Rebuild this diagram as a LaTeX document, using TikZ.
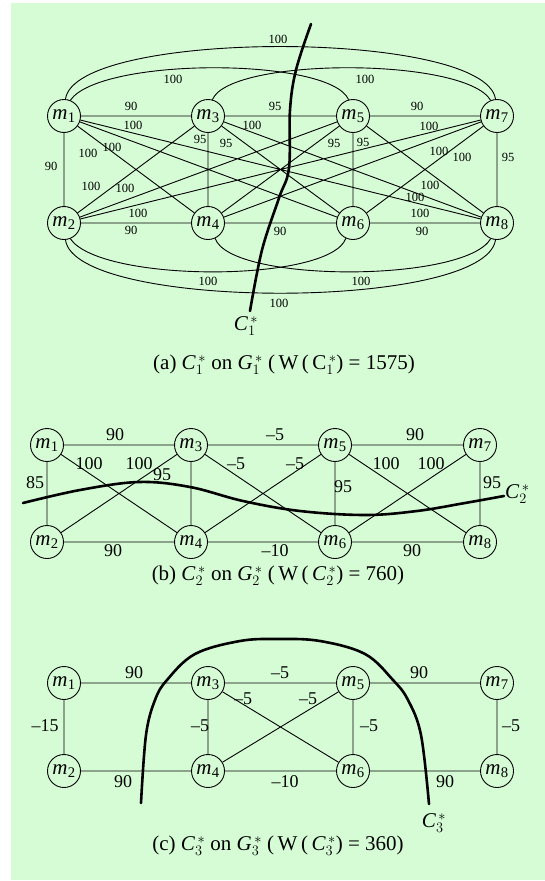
\documentclass[tikz,border=0pt]{standalone}
\usepackage{fontspec}
\setmainfont{Liberation Serif}
\usetikzlibrary{calc}
\definecolor{bgg}{RGB}{214,252,214}
\newcommand\mnode[1]{\textit{m}\kern0.02em\textsubscript{#1}}
\newcommand\cstar[1]{\textit{C}$_{#1}^{\,*}$}
\newcommand\gstar[1]{\textit{G}$_{#1}^{\,*}$}
\begin{document}
\begin{tikzpicture}[x=1pt,y=-1pt,
  vtx/.style={circle,draw,line width=0.9pt,inner sep=0pt,minimum size=33pt,font=\fontsize{21}{21}\selectfont},
  edg/.style={line width=0.9pt},
  cutl/.style={line width=2.6pt,line cap=round},
  la/.style={inner sep=0pt,font=\fontsize{12.5}{13}\selectfont},
  lb/.style={inner sep=0pt,font=\fontsize{18}{18}\selectfont},
  capt/.style={inner sep=0pt,font=\fontsize{21}{21}\selectfont}]
\useasboundingbox (0,0) rectangle (545,881);
\fill[bgg] (11,3) rectangle (545,880);

% ---------------- panel (a)
\begin{scope}
\node[vtx] (a1) at (64,116) {\mnode{1}};
\node[vtx] (a3) at (208,116) {\mnode{3}};
\node[vtx] (a5) at (353,116) {\mnode{5}};
\node[vtx] (a7) at (497,116) {\mnode{7}};
\node[vtx] (a2) at (64,223) {\mnode{2}};
\node[vtx] (a4) at (208,223) {\mnode{4}};
\node[vtx] (a6) at (353,223) {\mnode{6}};
\node[vtx] (a8) at (497,223) {\mnode{8}};
\draw[edg] (a1)--(a3) (a3)--(a5) (a5)--(a7) (a2)--(a4) (a4)--(a6) (a6)--(a8)
  (a1)--(a2) (a3)--(a4) (a5)--(a6) (a7)--(a8)
  (a1)--(a4) (a1)--(a6) (a1)--(a8) (a3)--(a2) (a3)--(a6) (a3)--(a8)
  (a5)--(a2) (a5)--(a4) (a5)--(a8) (a7)--(a2) (a7)--(a4) (a7)--(a6);
% top arcs
\draw[edg] (a1.85) .. controls (75,29) and (485,29) .. (a7.95);
\draw[edg] (a1.68) .. controls (100,57) and (330,57) .. (a5.105);
\draw[edg] (a3.75) .. controls (230,57) and (465,57) .. (a7.112);
% bottom arcs
\draw[edg] (a2.-85) .. controls (75,311) and (485,311) .. (a8.-95);
\draw[edg] (a2.-68) .. controls (100,283) and (330,283) .. (a6.-115);
\draw[edg] (a4.-65) .. controls (230,283) and (465,283) .. (a8.-112);
% labels
\foreach \t/\x/\y in {90/131/106,95/275/106,90/417/106,100/133/125,100/252/125,100/429/126,
  95/200/139,95/226/143,95/334/143,95/363/142,100/112/147,100/88/153,100/439/151,100/462/157,
  90/51/166,95/508/157,100/91/186,100/125/188,100/430/185,100/415/197,100/138/213,100/420/213,
  90/131/230,90/280/231,90/422/231,100/278/39,100/173/79,100/365/79,100/208/281,100/361/281,100/279/303}
  \node[la] at (\x,\y) {\t};
\draw[cutl] plot[smooth,tension=0.6] coordinates {(311,24) (296,70) (290,110) (289,168) (279,198) (262,250) (250,311)};
\node[capt] (c1l) at (246,326) {\cstar{1}};
\node[capt] (capa) at (284,365) {(a) \cstar{1} on \gstar{1} (\,W\,(\,C$_{1}^{\,*}$) = 1575)};
\end{scope}

% ---------------- panel (b)
\begin{scope}
\node[vtx] (b1) at (47,445) {\mnode{1}};
\node[vtx] (b3) at (191,445) {\mnode{3}};
\node[vtx] (b5) at (335,445) {\mnode{5}};
\node[vtx] (b7) at (480,445) {\mnode{7}};
\node[vtx] (b2) at (47,542) {\mnode{2}};
\node[vtx] (b4) at (191,542) {\mnode{4}};
\node[vtx] (b6) at (335,542) {\mnode{6}};
\node[vtx] (b8) at (480,542) {\mnode{8}};
\draw[edg] (b1)--(b3) (b3)--(b5) (b5)--(b7) (b2)--(b4) (b4)--(b6) (b6)--(b8)
  (b1)--(b2) (b3)--(b4) (b5)--(b6) (b7)--(b8)
  (b1)--(b4) (b3)--(b2) (b3)--(b6) (b5)--(b4) (b5)--(b8) (b7)--(b6);
\foreach \t/\x/\y in {90/115/435,--5/275/435,90/415/435,100/89/464,100/139/464,95/162/475,
  --5/236/464,--5/295/464,100/386/464,100/431/464,85/35/483,95/343/487,95/492/483,
  90/113/551,--10/275/551,90/412/551}
  \node[lb] at (\x,\y) {\t};
\draw[cutl] plot[smooth,tension=0.6] coordinates {(23,503) (80,490) (139,482) (190,487) (243,501) (300,511) (365,515) (417,511) (465,503) (504,496)};
\node[capt,anchor=west] (c2l) at (505,494) {\cstar{2}};
\node[capt] (capb) at (278,576) {(b) \cstar{2} on \gstar{2} (\,W\,(\,\cstar{2}) = 760)};
\end{scope}

% ---------------- panel (c)
\begin{scope}
\node[vtx] (c1) at (64,683) {\mnode{1}};
\node[vtx] (c3) at (208,683) {\mnode{3}};
\node[vtx] (c5) at (353,683) {\mnode{5}};
\node[vtx] (c7) at (497,683) {\mnode{7}};
\node[vtx] (c2) at (64,771) {\mnode{2}};
\node[vtx] (c4) at (208,771) {\mnode{4}};
\node[vtx] (c6) at (353,771) {\mnode{6}};
\node[vtx] (c8) at (497,771) {\mnode{8}};
\draw[edg] (c1)--(c3) (c3)--(c5) (c5)--(c7) (c2)--(c4) (c4)--(c6) (c6)--(c8)
  (c1)--(c2) (c3)--(c4) (c5)--(c6) (c7)--(c8)
  (c3)--(c6) (c5)--(c4);
\foreach \t/\x/\y in {90/134/673,--5/280/673,90/419/673,--5/243/699,--5/308/699,
  --15/45/726,--5/200/726,--5/369/726,--5/511/726,90/123/782,--10/285/782,90/445/782}
  \node[lb] at (\x,\y) {\t};
\draw[cutl] plot[smooth,tension=0.6] coordinates {(141,803) (146,735) (155,700) (167,680) (195,654) (240,641) (278,639) (320,641) (365,654) (393,680) (408,700) (421,735) (429,804)};
\node[capt] (c3l) at (434,823) {\cstar{3}};
\node[capt] (capc) at (278,846) {(c) \cstar{3} on \gstar{3} (\,W\,(\,\cstar{3}) = 360)};
\end{scope}
\end{tikzpicture}
\end{document}
